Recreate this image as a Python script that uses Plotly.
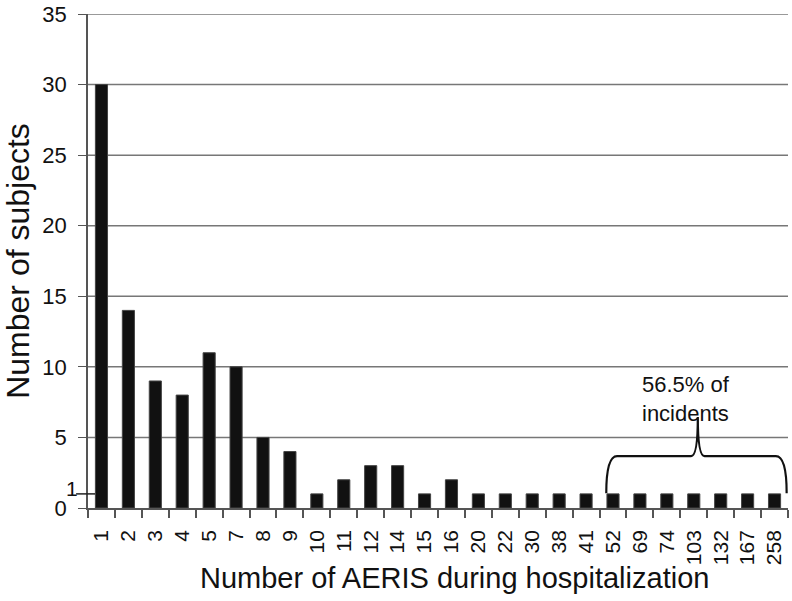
import plotly.graph_objects as go

categories = ["1", "2", "3", "4", "5", "7", "8", "9", "10", "11", "12", "14", "15",
              "16", "20", "22", "30", "38", "41", "52", "69", "74", "103", "132",
              "167", "258"]
subjects = [30, 14, 9, 8, 11, 10, 5, 4, 1, 2, 3, 3, 1, 2, 1, 1, 1, 1, 1, 1, 1, 1,
            1, 1, 1, 1]
y_ticks = [0, 5, 10, 15, 20, 25, 30, 35]

font = "Liberation Sans, Arial, sans-serif"
idx = list(range(len(categories)))

fig = go.Figure()
fig.add_trace(
    go.Bar(
        x=idx,
        y=subjects,
        width=0.45,
        marker=dict(color="#111111", line=dict(color="#444444", width=1)),
    )
)

# horizontal gridlines (skip 0, axis line is there)
for v in y_ticks[1:]:
    fig.add_hline(y=v, line=dict(color="#777777", width=1.5), layer="below")

# the odd little "1" tick on the y axis
fig.add_shape(type="line", xref="paper", yref="y", x0=-0.017, x1=0.01, y0=1, y1=1,
              line=dict(color="#222222", width=1.5))
fig.add_annotation(text="1", xref="paper", yref="y", x=-0.012, y=1.4, xanchor="right",
                   yanchor="middle", showarrow=False, font=dict(size=21, color="#111"))

# brace over the last 7 categories
bl, br, bc = 18.75, 25.45, 22.15
y0, y1, ytop = 1.05, 3.68, 6.45
path = (f"M {bl},{y0} Q {bl},{y1} {bl + 0.4},{y1} L {bc - 0.25},{y1} "
        f"Q {bc},{y1} {bc},{ytop} Q {bc},{y1} {bc + 0.25},{y1} "
        f"L {br - 0.4},{y1} Q {br},{y1} {br},{y0}")
fig.add_shape(type="path", path=path, xref="x", yref="y",
              line=dict(color="#111111", width=2.2))
fig.add_annotation(text="56.5% of<br>incidents", x=20.0, y=7.75, xref="x", yref="y",
                   showarrow=False, align="left", xanchor="left", yanchor="middle",
                   font=dict(size=22, color="#111"))

# x title sits a bit right of the plot centre in the original
fig.add_annotation(text="Number of AERIS during hospitalization", xref="paper",
                   yref="paper", x=0.524, y=0, yshift=-70, xanchor="center",
                   yanchor="middle", showarrow=False, font=dict(size=29, color="#111"))

fig.update_layout(
    width=792,
    height=601,
    margin=dict(l=88, r=4, t=14, b=93),
    plot_bgcolor="white",
    paper_bgcolor="white",
    font=dict(family=font, color="#111111"),
    showlegend=False,
    bargap=0.5,
)
fig.update_xaxes(
    range=[-0.5, len(categories) - 0.5],
    tickvals=idx,
    ticktext=categories,
    tickangle=-90,
    tickfont=dict(size=21),
    ticks="",
    ticklabelstandoff=12,
    showline=True,
    linecolor="#555555",
    linewidth=1.5,
    showgrid=False,
    automargin=False,
    minor=dict(tickvals=[i - 0.5 for i in idx] + [len(categories) - 0.5],
               ticks="outside", ticklen=8, tickcolor="#555555", tickwidth=1.5),
)
fig.update_yaxes(
    range=[0, 35],
    tickvals=y_ticks,
    tickfont=dict(size=22),
    ticks="outside",
    ticklen=8,
    ticklabelstandoff=7,
    tickcolor="#555555",
    showline=True,
    linecolor="#555555",
    linewidth=1.5,
    showgrid=False,
    zeroline=False,
    automargin=False,
    title=dict(text="Number of subjects", font=dict(size=32), standoff=13),
)

# drop the page's default body margin so the figure sits at the window's corner
fig.write_html("out.html", config={"displayModeBar": False},
               post_script="document.body.style.margin='0';")
